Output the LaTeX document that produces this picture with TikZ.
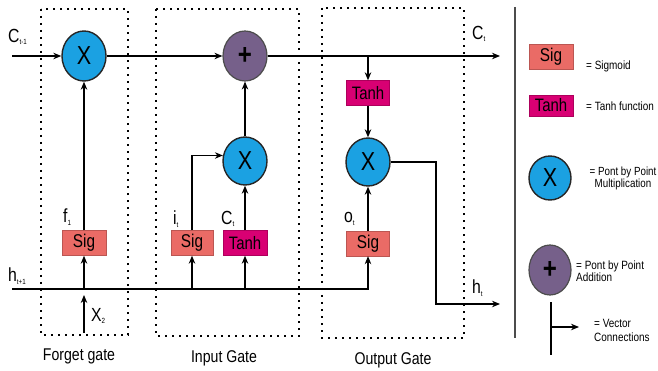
\documentclass[tikz,border=0pt]{standalone}
\usepackage{fontspec}
\setmainfont[FakeStretch=0.83]{Liberation Sans}
\usetikzlibrary{shapes.geometric,arrows.meta}
\definecolor{sigred}{HTML}{EA6B66}
\definecolor{tanhmag}{HTML}{D80073}
\definecolor{mulblue}{HTML}{1BA1E2}
\definecolor{addpurple}{HTML}{76608A}
\newcommand\sublbl[2]{#1\raisebox{-0.25ex}{\fontsize{7.5}{7.5}\selectfont #2}}
\tikzset{
  arr/.style={draw=black, line width=1.1pt, -{Stealth[length=8pt,width=6.5pt]}},
  plainline/.style={draw=black, line width=1.1pt},
  gatebox/.style={draw=black, line width=1.8pt, dash pattern=on 1.8pt off 5.2pt},
  sigbox/.style={rectangle, fill=sigred, draw=sigred!80!black, line width=0.4pt, minimum width=44pt, minimum height=25pt, inner sep=0pt, font=\fontsize{18.5}{18.5}\selectfont},
  tanhbox/.style={rectangle, fill=tanhmag, draw=tanhmag!80!black, line width=0.4pt, minimum width=44pt, minimum height=25pt, inner sep=0pt, font=\fontsize{18}{18}\selectfont},
  mulnode/.style={ellipse, fill=mulblue, draw=black!85, line width=1.4pt, minimum width=44pt, minimum height=50pt, inner sep=0pt, font=\fontsize{26}{26}\selectfont},
  addnode/.style={ellipse, fill=addpurple, draw=black!70, line width=1.2pt, minimum width=44pt, minimum height=50pt, inner sep=0pt, font=\fontsize{29}{29}\selectfont\bfseries},
  lbl/.style={inner sep=0pt, anchor=west, font=\fontsize{19}{19}\selectfont},
  gatelbl/.style={inner sep=0pt, font=\fontsize{17}{17}\selectfont},
  legtxt/.style={inner sep=0pt, font=\fontsize{12}{12}\selectfont},
}
\begin{document}
\begin{tikzpicture}[x=1pt,y=-1pt]
\useasboundingbox (0,0) rectangle (658,371);
\fill[white] (0,0) rectangle (658,371);

% gate boxes
\draw[gatebox] (41,9) rectangle (128,335);
\draw[gatebox] (156,9) rectangle (299,336);
\draw[gatebox] (322,8) rectangle (464,338);

% separator
\draw[draw=black!70, line width=1.5pt] (515,7) -- (515,338);

% nodes
\node[mulnode] (fx) at (84,56) {X};
\node[addnode] (plus) at (245,56) {+};
\node[mulnode, minimum height=48pt] (ix) at (245,161) {X};
\node[mulnode, minimum height=48pt] (ox) at (368,162) {X};
\node[tanhbox, minimum width=43pt] (otanh) at (368,93) {Tanh};
\node[sigbox] (fsig) at (84,243) {Sig};
\node[sigbox, minimum width=42pt] (isig) at (192,243) {Sig};
\node[tanhbox] (itanh) at (245,243) {Tanh};
\node[sigbox, minimum width=43pt] (osig) at (368,243.5) {Sig};

\coordinate (cin) at (12,56);
\coordinate (cout) at (500,56);
\coordinate (hin) at (12,289);
\coordinate (hturn) at (436,304);
\coordinate (hout) at (500,304);
\coordinate (xin) at (84,333);
\coordinate (xtip) at (84,295);

% cell state line
\draw[arr] (cin) -- (fx.west);
\draw[arr] (fx.east) -- (plus.west);
\draw[arr] (plus.east) -- (cout);
\draw[arr] (otanh.north |- cin) -- (otanh.north);
\draw[arr] (otanh.south) -- (ox.north);

% gate connections
\draw[arr] (fsig.north) -- (fx.south);
\draw[arr] (isig.north) |- (ix.166);
\draw[arr] (itanh.north) -- (ix.south);
\draw[arr] (ix.north) -- (plus.south);
\draw[arr] (osig.north) -- (ox.south);

% hidden state line
\draw[arr] (hin) -| (osig.south);
\draw[arr] (fsig.south |- hin) -- (fsig.south);
\draw[arr] (isig.south |- hin) -- (isig.south);
\draw[arr] (itanh.south |- hin) -- (itanh.south);
\draw[arr] (xin) -- (xtip);
\draw[arr] (ox.east) -| (hturn) -- (hout);

% labels
\node[lbl] (lct1) at (8,37) {\sublbl{C}{t-1}};
\node[lbl] (lct) at (472,34) {\sublbl{C}{t}};
\node[lbl] (lf) at (63,217) {\sublbl{f}{1}};
\node[lbl] (li) at (173,219) {\sublbl{i}{t}};
\node[lbl] (lc) at (221,219) {\sublbl{C}{t}};
\node[lbl] (lo) at (344,219) {\sublbl{o}{t}};
\node[lbl] (lh1) at (8,276) {\sublbl{h}{t+1}};
\node[lbl] (lht) at (472,288) {\sublbl{h}{t}};
\node[lbl] (lx2) at (91,316) {\sublbl{X}{2}};

\node[gatelbl] (gf) at (79,356) {Forget gate};
\node[gatelbl] (gi) at (224,358) {Input Gate};
\node[gatelbl] (go) at (393,360) {Output Gate};

% legend
\node[sigbox] (lsig) at (551,57) {Sig};
\node[tanhbox, minimum height=21pt] (ltanh) at (551,105.5) {Tanh};
\node[mulnode, minimum width=42pt, minimum height=44pt] (lx) at (550,178) {X};
\node[addnode, minimum width=42pt, minimum height=50pt] (lplus) at (550,270) {+};
\node[legtxt, anchor=west] (tsig) at (586,66) {= Sigmoid};
\node[legtxt, anchor=west] (ttanh) at (586,106) {= Tanh function};
\node[legtxt, align=center, font=\fontsize{11.8}{12}\selectfont] (tmul) at (623,178) {= Pont by Point\\Multiplication};
\node[legtxt, align=left, anchor=west] (tadd) at (576,271) {= Pont by Point\\Addition};
\node[legtxt, align=left, anchor=west, font=\fontsize{12}{14}\selectfont] (tvec) at (594,330) {= Vector\\Connections};

\coordinate (vtop) at (551,302);
\coordinate (vbot) at (551,355);
\coordinate (vmid) at (551,327);
\coordinate (vend) at (579,327);
\draw[plainline] (vtop) -- (vbot);
\draw[arr] (vmid) -- (vend);
\end{tikzpicture}
\end{document}
